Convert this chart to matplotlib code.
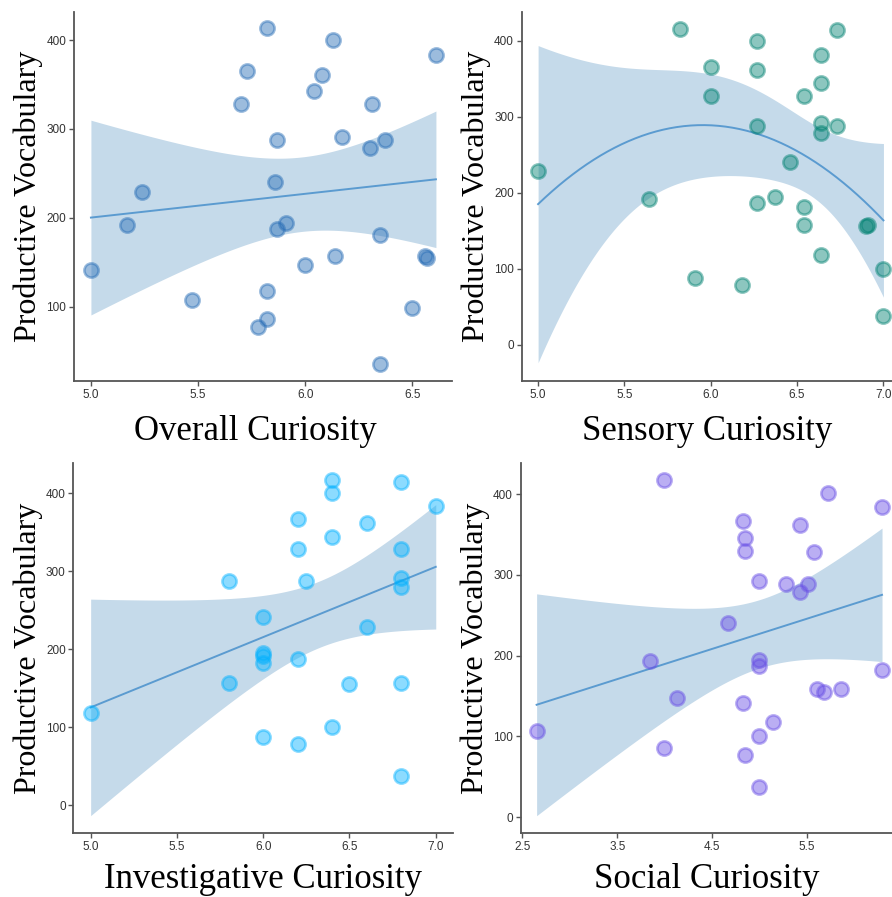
import numpy as np
import matplotlib
matplotlib.use("Agg")
import matplotlib.pyplot as plt

# values
overall_x = [5.00, 5.17, 5.24, 5.47, 5.70, 5.73, 5.82, 5.78, 5.82, 5.82, 5.87, 5.86, 5.87,
             5.91, 6.00, 6.04, 6.08, 6.13, 6.14, 6.17, 6.31, 6.30, 6.37, 6.35, 6.35, 6.50,
             6.56, 6.57, 6.61]
overall_y = [141, 192, 229, 107, 328, 365, 413, 77, 86, 118, 288, 240, 187,
             194, 147, 343, 361, 400, 157, 291, 328, 279, 288, 181, 36, 99,
             157, 155, 383]

sensory_x = [5.00, 5.64, 5.82, 5.91, 6.00, 6.00, 6.18, 6.27, 6.27, 6.27, 6.27, 6.37, 6.46,
             6.54, 6.54, 6.54, 6.64, 6.64, 6.64, 6.64, 6.64, 6.73, 6.73, 6.90, 6.91, 7.00, 7.00]
sensory_y = [229, 192, 416, 87, 366, 328, 78, 400, 362, 288, 187, 194, 240,
             328, 181, 157, 382, 344, 292, 279, 118, 414, 288, 156, 157, 100, 37]

invest_x = [5.0, 5.8, 5.8, 6.0, 6.0, 6.0, 6.0, 6.0, 6.2, 6.2, 6.2, 6.2, 6.25, 6.4,
            6.4, 6.4, 6.4, 6.5, 6.6, 6.6, 6.8, 6.8, 6.8, 6.8, 6.8, 6.8, 7.0]
invest_y = [118, 288, 157, 241, 195, 192, 182, 87, 367, 329, 188, 78, 288, 417,
            400, 344, 100, 155, 362, 229, 415, 328, 292, 280, 157, 37, 384]

social_x = [2.65, 3.85, 3.99, 3.99, 4.13, 4.67, 4.83, 4.85, 4.85, 4.83, 4.85, 4.99, 4.99,
            4.99, 4.99, 4.99, 5.14, 5.28, 5.43, 5.43, 5.51, 5.57, 5.60, 5.68, 5.72, 5.86,
            6.29, 6.29]
social_y = [107, 193, 417, 86, 148, 240, 367, 345, 329, 141, 77, 292, 194,
            187, 100, 37, 118, 288, 362, 279, 289, 328, 158, 155, 401, 158,
            384, 182]

x_labels = ["Overall Curiosity", "Sensory Curiosity", "Investigative Curiosity", "Social Curiosity"]
y_label = "Productive Vocabulary"
point_colors = ["#256BB5", "#008171", "#00B1FF", "#674DE5"]
fit_degree = [1, 2, 1, 1]
x_ticks = [[5.0, 5.5, 6.0, 6.5], [5.0, 5.5, 6.0, 6.5, 7.0],
           [5.0, 5.5, 6.0, 6.5, 7.0], [2.5, 3.5, 4.5, 5.5]]
y_ticks = [[100, 200, 300, 400], [0, 100, 200, 300, 400],
           [0, 100, 200, 300, 400], [0, 100, 200, 300, 400]]
x_lims = [(4.921, 6.685), (4.905, 7.10), (4.90, 7.10), (2.48, 6.49)]
y_lims = [(16.4, 431.5), (-48, 438), (-35.5, 438.8), (-19.8, 438.4)]

W, H = 892, 897
# axes boxes in pixels: left, right, top, bottom
boxes = [(74, 452, 12, 381), (521.7, 900.7, 12, 381),
         (73.4, 453, 463, 833), (520.5, 901, 463, 833)]
xlabel_x = [0.48, 0.49, 0.50, 0.49]
xlabel_y = [-0.138, -0.138, -0.127, -0.127]


def smooth_fit(x, y, deg, t=2.05):
    x = np.asarray(x, float)
    y = np.asarray(y, float)
    X = np.vander(x, deg + 1)
    beta, *_ = np.linalg.lstsq(X, y, rcond=None)
    resid = y - X @ beta
    dof = len(x) - (deg + 1)
    s2 = resid @ resid / dof
    cov = s2 * np.linalg.inv(X.T @ X)
    xs = np.linspace(x.min(), x.max(), 200)
    Xs = np.vander(xs, deg + 1)
    fit = Xs @ beta
    se = np.sqrt(np.einsum("ij,jk,ik->i", Xs, cov, Xs))
    return xs, fit, fit - t * se, fit + t * se


fig = plt.figure(figsize=(W / 100, H / 100), dpi=100, facecolor="white")

data = [(overall_x, overall_y), (sensory_x, sensory_y),
        (invest_x, invest_y), (social_x, social_y)]

for i, (xv, yv) in enumerate(data):
    l, r, t, b = boxes[i]
    ax = fig.add_axes([l / W, 1 - b / H, (r - l) / W, (b - t) / H])
    ax.set_facecolor("white")

    xs, fit, lo, hi = smooth_fit(xv, yv, fit_degree[i])
    ax.fill_between(xs, lo, hi, color="#C5DAEA", linewidth=0, zorder=1)
    ax.plot(xs, fit, color="#5B9BD0", linewidth=1.4, zorder=2)
    ax.scatter(xv, yv, s=105, color=point_colors[i], alpha=0.45,
               linewidths=1.9, zorder=3)

    ax.set_xlim(*x_lims[i])
    ax.set_ylim(*y_lims[i])
    ax.set_xticks(x_ticks[i])
    ax.set_xticklabels([f"{v:.1f}" for v in x_ticks[i]])
    ax.set_yticks(y_ticks[i])

    ax.spines["top"].set_visible(False)
    ax.spines["right"].set_visible(False)
    for side in ("left", "bottom"):
        ax.spines[side].set_color("#555555")
        ax.spines[side].set_linewidth(1.3)
    ax.tick_params(axis="both", colors="#555555", labelcolor="#333333",
                   labelsize=8.5, length=3.5, width=1.0, pad=2)
    for lab in ax.get_xticklabels() + ax.get_yticklabels():
        lab.set_fontfamily("Liberation Sans")

    ax.set_ylabel(y_label, fontfamily="Liberation Serif", fontsize=23,
                  color="black", va="center")
    ax.yaxis.set_label_coords(-0.12, 0.5)
    ax.set_xlabel(x_labels[i], fontfamily="Liberation Serif", fontsize=25,
                  color="black", va="center")
    ax.xaxis.set_label_coords(xlabel_x[i], xlabel_y[i])

fig.savefig("out.png", dpi=100, facecolor="white")
